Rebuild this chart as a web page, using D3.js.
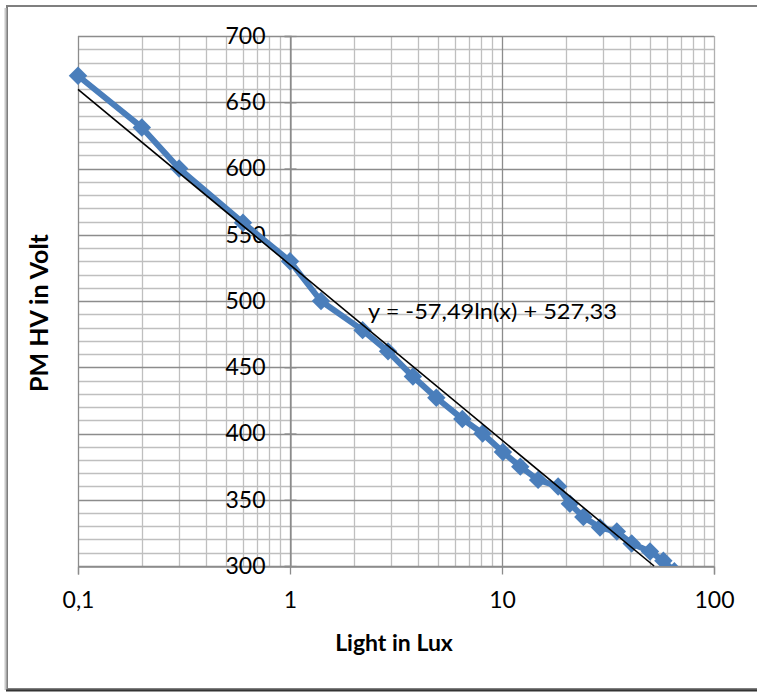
<!DOCTYPE html>
<html>
<head>
<meta charset="utf-8">
<script src="https://cdn.jsdelivr.net/npm/d3@7"></script>
<style>
  body { margin: 0; background: #fff; }
  svg { display: block; font-family: Lato, "Open Sans", sans-serif; }
</style>
</head>
<body>
<svg width="757" height="692"></svg>
<script>
// measured points: light (lux) vs PM high voltage (V)
var lux = [0.1, 0.2, 0.3, 0.6, 1, 1.4, 2.2, 2.9, 3.8, 4.9, 6.5, 8.1, 10.1, 12.2, 14.8, 18.4, 20.9, 24.2, 29, 34.8, 40.9, 49.9, 57.7, 65];
var volt = [670, 631, 600, 559, 530, 500, 478, 462, 443, 427, 411, 400, 386, 375, 365, 360, 347, 337, 329, 326, 317, 311, 304, 296];
var xTicks = [0.1, 1, 10, 100];
var xTickLabels = ['0,1', '1', '10', '100'];
var yTicks = [300, 350, 400, 450, 500, 550, 600, 650, 700];
// trendline y = a*ln(x) + b
var trendA = -57.49, trendB = 527.33;
var trendLabel = 'y = -57,49ln(x) + 527,33';

var svg = d3.select('svg');
var pLeft = 78, pRight = 714, pTop = 36, pBottom = 566;

var x = d3.scaleLog().domain([0.1, 100]).range([pLeft, pRight]);
var y = d3.scaleLinear().domain([300, 700]).range([pBottom, pTop]);

// chart frame
svg.append('rect')
    .attr('x', 7).attr('y', 6).attr('width', 800).attr('height', 683)
    .attr('fill', '#fff').attr('stroke', '#7f7f7f').attr('stroke-width', 2);
svg.append('line').attr('x1', 5.5).attr('x2', 5.5).attr('y1', 8).attr('y2', 690)
    .attr('stroke', '#c8c8c8').attr('stroke-width', 2);
svg.append('line').attr('x1', 6).attr('x2', 757).attr('y1', 690.5).attr('y2', 690.5)
    .attr('stroke', '#333').attr('stroke-width', 2);

// minor grid
var xMinor = [];
[0.1, 1, 10].forEach(function(p) {
    for (var k = 2; k <= 9; k++) xMinor.push(p * k);
});
var yMinor = d3.range(300, 701, 10).filter(function(v) { return v % 50 !== 0; });

var grid = svg.append('g');
grid.selectAll('.xm').data(xMinor).enter().append('line')
    .attr('x1', function(d) { return Math.round(x(d)) + 0.5; })
    .attr('x2', function(d) { return Math.round(x(d)) + 0.5; })
    .attr('y1', pTop).attr('y2', pBottom)
    .attr('stroke', '#bfbfbf').attr('stroke-width', 1.3);
grid.selectAll('.ym').data(yMinor).enter().append('line')
    .attr('x1', pLeft).attr('x2', pRight)
    .attr('y1', function(d) { return Math.round(y(d)) + 0.5; })
    .attr('y2', function(d) { return Math.round(y(d)) + 0.5; })
    .attr('stroke', '#bfbfbf').attr('stroke-width', 1.3);

// major grid
grid.selectAll('.yM').data(yTicks).enter().append('line')
    .attr('x1', pLeft).attr('x2', pRight)
    .attr('y1', function(d) { return Math.round(y(d)) + 0.5; })
    .attr('y2', function(d) { return Math.round(y(d)) + 0.5; })
    .attr('stroke', '#8c8c8c').attr('stroke-width', 1.3);
grid.selectAll('.xM').data(xTicks).enter().append('line')
    .attr('x1', function(d) { return Math.round(x(d)) + 0.5; })
    .attr('x2', function(d) { return Math.round(x(d)) + 0.5; })
    .attr('y1', pTop).attr('y2', pBottom)
    .attr('stroke', function(d) { return d === 100 ? '#b0b0b0' : '#8c8c8c'; })
    .attr('stroke-width', 1.3);

// x axis at bottom, ticks pointing down
var xAxis = svg.append('g')
    .attr('transform', 'translate(0,' + (pBottom + 0.5) + ')')
    .call(d3.axisBottom(x).tickValues(xTicks).tickSize(8).tickPadding(17)
        .tickFormat(function(d, i) { return xTickLabels[i]; }));
xAxis.select('.domain').attr('stroke', '#8c8c8c').attr('stroke-width', 1.3);
xAxis.selectAll('.tick line').attr('stroke', '#8c8c8c').attr('stroke-width', 1.3);
xAxis.selectAll('text').attr('font-size', 23).attr('fill', '#000')
    .attr('font-family', 'Lato, sans-serif');

// y axis crossing at x = 1
var yAxis = svg.append('g')
    .attr('transform', 'translate(' + (Math.round(x(1)) + 0.5) + ',0)')
    .call(d3.axisLeft(y).tickValues(yTicks).tickSize(6).tickPadding(19));
yAxis.select('.domain').attr('stroke', '#8c8c8c').attr('stroke-width', 1.3);
yAxis.selectAll('.tick line').attr('x1', 6).attr('stroke', '#8c8c8c').attr('stroke-width', 1.3);
yAxis.selectAll('text').attr('font-size', 23).attr('fill', '#000')
    .attr('font-family', 'Lato, sans-serif');

// clip to plot area
svg.append('clipPath').attr('id', 'plot')
    .append('rect').attr('x', pLeft - 10).attr('y', pTop - 10)
    .attr('width', pRight - pLeft + 20).attr('height', pBottom - pTop + 10);

var pts = lux.map(function(v, i) { return [v, volt[i]]; });
var series = svg.append('g').attr('clip-path', 'url(#plot)');

series.append('path')
    .datum(pts)
    .attr('fill', 'none')
    .attr('stroke', '#4a7ebb')
    .attr('stroke-width', 6)
    .attr('stroke-linejoin', 'round')
    .attr('d', d3.line().x(function(d) { return x(d[0]); }).y(function(d) { return y(d[1]); }));

series.selectAll('.mk').data(pts).enter().append('path')
    .attr('d', d3.symbol().type(d3.symbolSquare).size(170))
    .attr('transform', function(d) {
        return 'translate(' + x(d[0]) + ',' + y(d[1]) + ') rotate(45)';
    })
    .attr('fill', '#4a7ebb');

// logarithmic trendline
var xEnd = Math.exp((300 - trendB) / trendA);
var trendPts = [0.1, xEnd].map(function(v) { return [v, trendA * Math.log(v) + trendB]; });
svg.append('path')
    .datum(trendPts)
    .attr('fill', 'none')
    .attr('stroke', '#000')
    .attr('stroke-width', 1.6)
    .attr('d', d3.line().x(function(d) { return x(d[0]); }).y(function(d) { return y(d[1]); }));

svg.append('text')
    .attr('x', 368).attr('y', 319)
    .attr('font-size', 22)
    .attr('textLength', 249).attr('lengthAdjust', 'spacingAndGlyphs')
    .text(trendLabel);

// axis titles
svg.append('text')
    .attr('x', 394).attr('y', 651)
    .attr('text-anchor', 'middle')
    .attr('font-size', 23).attr('font-weight', 'bold')
    .text('Light in Lux');
svg.append('text')
    .attr('transform', 'translate(48,313) rotate(-90)')
    .attr('text-anchor', 'middle')
    .attr('font-size', 25).attr('font-weight', 'bold')
    .text('PM HV in Volt');
</script>
</body>
</html>
